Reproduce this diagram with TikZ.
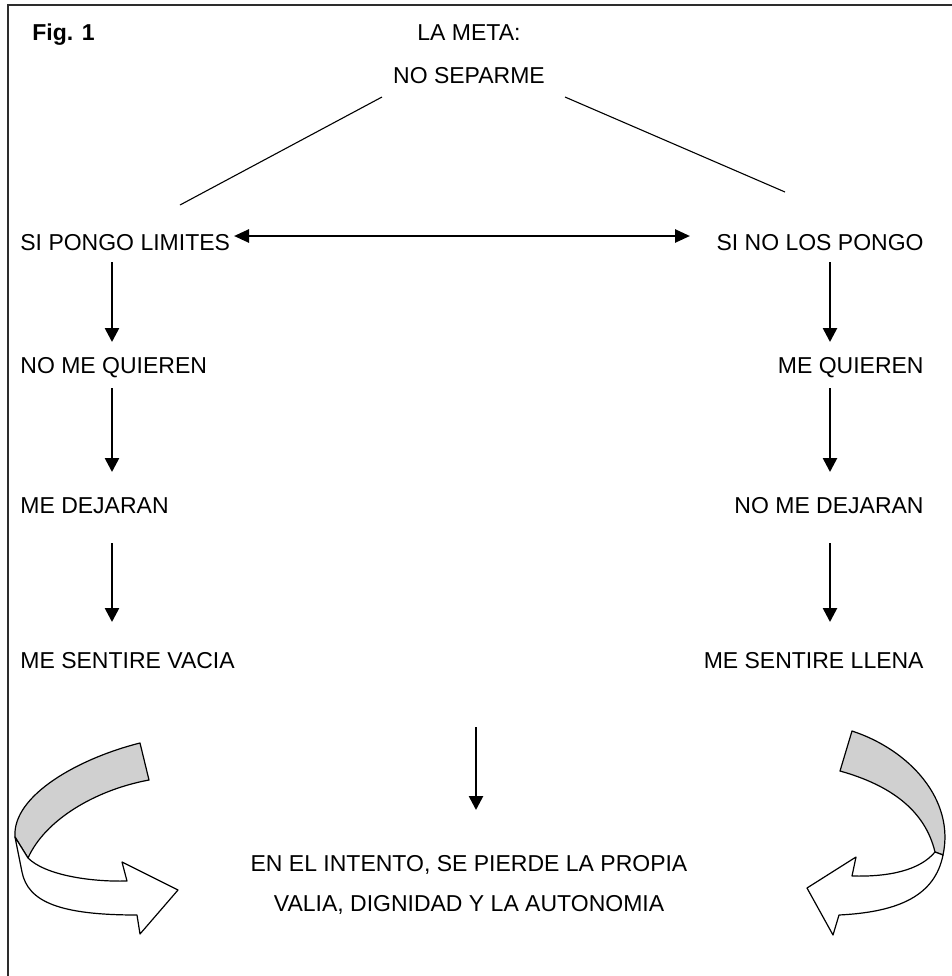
\documentclass[tikz,border=0pt]{standalone}
\usepackage{fontspec}
\setmainfont{Liberation Sans}
\usetikzlibrary{arrows.meta}
\definecolor{bandgray}{RGB}{208,208,208}
\definecolor{framegray}{RGB}{45,45,45}
\tikzset{
  lbl/.style={inner sep=0pt, font=\fontsize{11.5}{13}\selectfont},
  flow/.style={line width=1.3pt, -{Triangle[length=7pt,width=7pt]}},
  both/.style={line width=1.3pt, {Triangle[length=7.5pt,width=6.5pt]}-{Triangle[length=7.5pt,width=6.5pt]}},
  thin/.style={line width=0.55pt},
  band/.style={line width=0.6pt, line join=round}
}
\begin{document}
\begin{tikzpicture}[x=0.5pt, y=-0.5pt]
\useasboundingbox (0,0) rectangle (952,976);
% frame (open on the right and bottom)
\draw[framegray, line width=1.3pt] (8,976) -- (8,5) -- (952,5);

% title block
\node[lbl, anchor=base west, font=\fontsize{11.5}{13}\selectfont\bfseries] (fig) at (32,40) {Fig. 1};
\node[lbl, anchor=base] (meta) at (469,40) {LA META:};
\node[lbl, anchor=base] (goal) at (469,83) {NO SEPARME};

% left column
\node[lbl, anchor=base west] (l1) at (20,250) {SI PONGO LIMITES};
\node[lbl, anchor=base west] (l2) at (20,373) {NO ME QUIEREN};
\node[lbl, anchor=base west] (l3) at (20,513) {ME DEJARAN};
\node[lbl, anchor=base west] (l4) at (20,668) {ME SENTIRE VACIA};

% right column
\node[lbl, anchor=base east] (r1) at (924,250) {SI NO LOS PONGO};
\node[lbl, anchor=base east] (r2) at (924,373) {ME QUIEREN};
\node[lbl, anchor=base east] (r3) at (924,513) {NO ME DEJARAN};
\node[lbl, anchor=base east] (r4) at (924,668) {ME SENTIRE LLENA};

% conclusion
\node[lbl, anchor=base] (c1) at (469,871) {EN EL INTENTO, SE PIERDE LA PROPIA};
\node[lbl, anchor=base] (c2) at (469,911) {VALIA, DIGNIDAD Y LA AUTONOMIA};

% branches from the goal
\coordinate (gl) at (382,97);
\coordinate (gr) at (565,97);
\coordinate (bl) at (180,205);
\coordinate (br) at (785,192);
\draw[thin] (gl) -- (bl);
\draw[thin] (gr) -- (br);

% the two options
\coordinate (oa) at (234,236);
\coordinate (ob) at (690,236);
\draw[both] (oa) -- (ob);

% vertical chains
\foreach \x/\n in {112/L, 830/R} {
  \coordinate (\n a1) at (\x,262); \coordinate (\n b1) at (\x,342);
  \coordinate (\n a2) at (\x,388); \coordinate (\n b2) at (\x,472);
  \coordinate (\n a3) at (\x,543); \coordinate (\n b3) at (\x,622);
  \draw[flow] (\n a1) -- (\n b1);
  \draw[flow] (\n a2) -- (\n b2);
  \draw[flow] (\n a3) -- (\n b3);
}
\coordinate (ca) at (476,727);
\coordinate (cb) at (476,810);
\draw[flow] (ca) -- (cb);

% left curved band arrow
\filldraw[band, fill=bandgray]
  (140,743) .. controls (80,758) and (12,795) .. (15,837)
  -- (28,858) .. controls (45,820) and (95,790) .. (149,780) -- cycle;
\filldraw[band, fill=white]
  (28,858) .. controls (45,875) and (90,882) .. (127,881)
  -- (122,862) -- (178,890) -- (140,934) -- (137,915)
  .. controls (60,915) and (28,902) .. (22,872) -- (15,837) -- cycle;

% right curved band arrow
\filldraw[band, fill=bandgray]
  (852,731) .. controls (910,750) and (955,800) .. (943,855)
  -- (935,852) .. controls (925,810) and (890,785) .. (840,771) -- cycle;
\filldraw[band, fill=white]
  (935,852) .. controls (920,870) and (890,877) .. (852,876)
  -- (856,857) -- (807,888) -- (833,935) -- (839,915)
  .. controls (900,912) and (935,895) .. (943,855) -- cycle;
\end{tikzpicture}
\end{document}
